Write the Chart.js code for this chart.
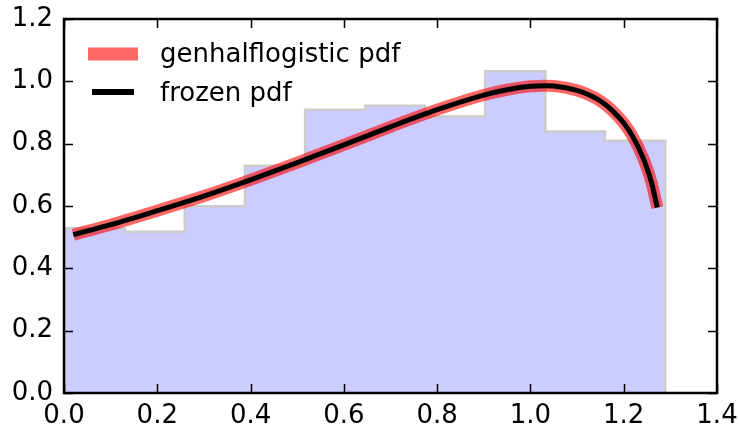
<!DOCTYPE html>
<html>
<head>
<meta charset="utf-8">
<script src="https://cdn.jsdelivr.net/npm/chart.js@4/dist/chart.umd.min.js"></script>
<style>
  html, body { margin: 0; padding: 0; background: #fff; }
  #wrap { width: 739px; height: 429px; }
</style>
</head>
<body>
<div id="wrap"><canvas id="c" width="739" height="429"></canvas></div>
<script>
/* ---------- data ---------- */
var binEdges   = [0.002, 0.131, 0.259, 0.388, 0.517, 0.646, 0.774, 0.903, 1.032, 1.160, 1.289];
var binHeights = [0.529, 0.517, 0.599, 0.729, 0.909, 0.922, 0.887, 1.032, 0.839, 0.809];

var curveX = [0.020, 0.10, 0.20, 0.30, 0.40, 0.50, 0.60, 0.70, 0.80, 0.90, 0.95, 1.00,
              1.03, 1.05, 1.10, 1.125, 1.15, 1.175, 1.20, 1.22, 1.24, 1.25, 1.26, 1.272];
var curveY = [0.508, 0.540, 0.585, 0.632, 0.684, 0.739, 0.796, 0.854, 0.909, 0.956, 0.973, 0.984,
              0.986, 0.985, 0.971, 0.957, 0.937, 0.907, 0.866, 0.821, 0.760, 0.721, 0.673, 0.595];

var legendLabels = ['genhalflogistic pdf', 'frozen pdf'];
var xTicks = [0, 0.2, 0.4, 0.6, 0.8, 1.0, 1.2, 1.4];
var yTicks = [0, 0.2, 0.4, 0.6, 0.8, 1.0, 1.2];

var FONT = '"DejaVu Sans", Verdana, sans-serif';
var FSIZE = 26;

/* stepfilled histogram outline: down at both ends */
function histPoints() {
  var pts = [{ x: binEdges[0], y: 0 }];
  for (var i = 0; i < binHeights.length; i++) pts.push({ x: binEdges[i], y: binHeights[i] });
  var last = binEdges.length - 1;
  pts.push({ x: binEdges[last], y: binHeights[binHeights.length - 1] });
  pts.push({ x: binEdges[last], y: 0 });
  return pts;
}
function curvePoints() {
  return curveX.map(function (x, i) { return { x: x, y: curveY[i] }; });
}

/* ---------- frame, inward ticks, legend ---------- */
var framePlugin = {
  id: 'frame',
  afterDraw: function (chart) {
    var ctx = chart.ctx, a = chart.chartArea;
    var xs = chart.scales.x, ys = chart.scales.y;
    var T = 9;
    ctx.save();
    ctx.strokeStyle = '#000';
    ctx.lineWidth = 1.5;
    ctx.beginPath();
    xTicks.forEach(function (v) {
      var px = Math.round(xs.getPixelForValue(v)) + 0.5;
      ctx.moveTo(px, a.bottom); ctx.lineTo(px, a.bottom - T);
      ctx.moveTo(px, a.top);    ctx.lineTo(px, a.top + T);
    });
    yTicks.forEach(function (v) {
      var py = Math.round(ys.getPixelForValue(v)) + 0.5;
      ctx.moveTo(a.left, py);  ctx.lineTo(a.left + T, py);
      ctx.moveTo(a.right, py); ctx.lineTo(a.right - T, py);
    });
    ctx.stroke();

    ctx.lineWidth = 2.5;
    ctx.strokeRect(a.left, a.top, a.right - a.left, a.bottom - a.top);

    // legend (no frame, like the reference)
    ctx.lineCap = 'butt';
    ctx.strokeStyle = 'rgba(255,0,0,0.6)';
    ctx.lineWidth = 13;
    ctx.beginPath(); ctx.moveTo(88, 54); ctx.lineTo(138, 54); ctx.stroke();
    ctx.strokeStyle = '#000';
    ctx.lineWidth = 6;
    ctx.beginPath(); ctx.moveTo(92, 92); ctx.lineTo(134, 92); ctx.stroke();

    ctx.fillStyle = '#000';
    ctx.font = FSIZE + 'px ' + FONT;
    ctx.textBaseline = 'alphabetic';
    ctx.textAlign = 'left';
    ctx.fillText(legendLabels[0], 160, 62);
    ctx.fillText(legendLabels[1], 160, 101);
    ctx.restore();
  }
};

new Chart(document.getElementById('c'), {
  type: 'line',
  data: {
    datasets: [
      {
        label: 'hist',
        data: histPoints(),
        stepped: 'before',
        fill: 'origin',
        backgroundColor: '#ccccff',
        borderColor: '#cccccc',
        borderWidth: 2.5,
        pointRadius: 0,
        order: 3
      },
      {
        label: legendLabels[0],
        data: curvePoints(),
        borderColor: 'rgba(255,0,0,0.6)',
        borderWidth: 12,
        cubicInterpolationMode: 'monotone',
        pointRadius: 0,
        fill: false,
        order: 2
      },
      {
        label: legendLabels[1],
        data: curvePoints(),
        borderColor: '#000',
        borderWidth: 5,
        cubicInterpolationMode: 'monotone',
        pointRadius: 0,
        fill: false,
        order: 1
      }
    ]
  },
  options: {
    responsive: false,
    animation: false,
    layout: { padding: { top: 19, right: 22, left: 0, bottom: 0 } },
    plugins: { legend: { display: false }, tooltip: { enabled: false } },
    scales: {
      x: {
        type: 'linear',
        min: 0, max: 1.4,
        afterFit: function (s) { s.height = 36; s.paddingLeft = 0; s.paddingRight = 0; },
        afterBuildTicks: function (s) { s.ticks = xTicks.map(function (v) { return { value: v }; }); },
        grid: { display: false, drawTicks: false },
        border: { display: false },
        ticks: {
          padding: 8,
          color: '#000',
          font: { family: FONT, size: FSIZE },
          maxRotation: 0,
          callback: function (v) { return v.toFixed(1); }
        }
      },
      y: {
        min: 0, max: 1.2,
        afterFit: function (s) { s.width = 64; s.paddingTop = 0; s.paddingBottom = 0; },
        afterBuildTicks: function (s) { s.ticks = yTicks.map(function (v) { return { value: v }; }); },
        grid: { display: false, drawTicks: false },
        border: { display: false },
        ticks: {
          padding: 11,
          color: '#000',
          font: { family: FONT, size: FSIZE },
          callback: function (v) { return v.toFixed(1); }
        }
      }
    }
  },
  plugins: [framePlugin]
});
</script>
</body>
</html>
